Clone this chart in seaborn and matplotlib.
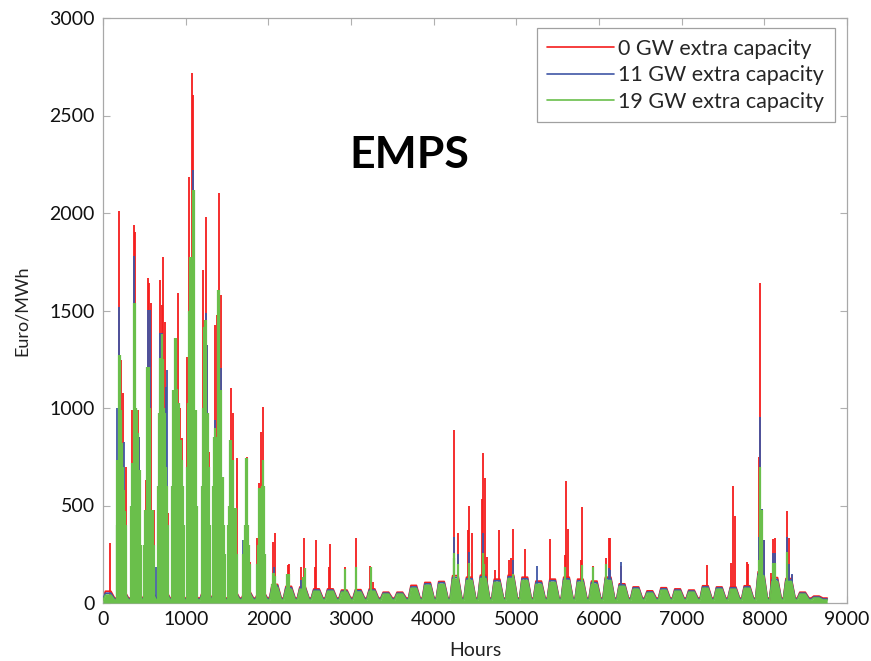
import numpy as np
import pandas as pd
import matplotlib
matplotlib.use("Agg")
import matplotlib.pyplot as plt
from matplotlib.lines import Line2D
import seaborn as sns

# ---------------- data ----------------
series_labels = ["0 GW extra capacity", "11 GW extra capacity", "19 GW extra capacity"]
colors = ["#f51d1d", "#3f56a6", "#6abf4b"]

# weekly baseline level (price plateau during each week), Euro/MWh
green_week = [40, 50, 50, 50, 50, 50, 50, 50, 50, 50, 50, 50, 80, 70, 70, 60, 60, 55, 55,
              60, 45, 45, 75, 90, 95, 120, 115, 125, 105, 125, 115, 95, 105, 115, 105, 95,
              115, 85, 70, 50, 65, 60, 55, 75, 70, 70, 75, 140, 110, 110, 45, 25, 20]
blue_week = [50, 55, 55, 55, 55, 55, 55, 55, 55, 55, 55, 55, 88, 78, 76, 66, 66, 60, 62,
             66, 50, 50, 82, 98, 104, 130, 124, 134, 114, 134, 124, 104, 114, 124, 114, 104,
             124, 92, 77, 56, 72, 66, 61, 82, 77, 77, 82, 150, 120, 118, 50, 30, 22]
red_week = [60, 60, 60, 60, 60, 60, 60, 60, 60, 60, 60, 60, 95, 85, 82, 72, 72, 66, 68,
            72, 55, 55, 90, 105, 110, 140, 132, 142, 122, 142, 132, 112, 122, 132, 122, 112,
            132, 98, 82, 62, 78, 72, 66, 88, 82, 82, 88, 160, 130, 125, 55, 35, 25]
week_low = [25, 20, 15]  # weekend trough: red, blue, green

# spikes (hour, price)
red_hours = [85, 198, 222, 246, 275, 351, 371, 391, 420, 440, 516, 540, 560, 576, 612,
             694, 714, 730, 750, 782, 870, 903, 932, 952, 1021, 1041, 1073, 1093, 1121,
             1214, 1242, 1262, 1282, 1355, 1379, 1408, 1428, 1456, 1549, 1577, 1617,
             1718, 1738, 1778, 1867, 1887, 1907, 1932, 2057, 2085, 2235, 2255, 2395, 2432,
             2560, 2574, 2735, 2747, 2928, 3057, 3235, 3270, 4240, 4290, 4412, 4432, 4460,
             4580, 4594, 4622, 4650, 4740, 4788, 4910, 4935, 4957, 5106, 5409, 5590, 5602,
             5630, 5780, 5800, 5930, 6090, 6115, 6135, 6270, 7310, 7600, 7620, 7647, 7788,
             7800, 7930, 7950, 7970, 8000, 8080, 8102, 8125, 8272, 8300, 8330]
red_vals = [308, 2010, 1246, 1077, 697, 990, 1940, 1903, 990, 851, 631, 1667, 1641, 1540, 477,
            1657, 1528, 1775, 1441, 462, 1339, 1590, 1000, 846, 1262, 2185, 2718, 2606, 785,
            1708, 1980, 1323, 774, 1426, 1477, 2103, 1580, 615, 1103, 974, 743,
            359, 750, 210, 333, 615, 877, 1005, 313, 359, 195, 200, 185, 333,
            185, 323, 185, 302, 185, 333, 190, 108, 887, 359, 374, 497, 359,
            533, 769, 641, 236, 169, 374, 220, 230, 379, 277, 328, 246, 626,
            379, 220, 492, 190, 231, 333, 333, 190, 195, 205, 600, 446, 210,
            200, 749, 1640, 482, 323, 154, 328, 333, 472, 333, 144]

blue_hours = [173, 198, 250, 380, 391, 440, 548, 568, 637, 694, 714, 758, 775, 870, 1041,
              1093, 1121, 1242, 1262, 1355, 1379, 1428, 1464, 1698, 2069, 2245, 2400, 4240,
              4290, 4432, 4594, 4957, 5248, 6115, 6135, 6270, 7930, 7950, 7970, 8000, 8102,
              8125, 8272, 8300, 8330]
blue_vals = [1000, 1518, 826, 1780, 1518, 851, 1503, 1503, 185, 1385, 1385, 1108, 1195, 1359, 1025,
             2220, 785, 1487, 1323, 938, 850, 1205, 308, 323, 185, 118, 118, 339,
             250, 262, 359, 220, 190, 180, 169, 210, 339, 954, 480, 323, 256,
             256, 339, 200, 150]

green_hours = [165, 173, 185, 194, 202, 210, 222, 234, 246, 258, 270, 282,
               339, 351, 363, 372, 384, 396, 408, 420, 432, 444, 456,
               500, 512, 524, 536, 548, 560, 572, 584, 596, 608, 620,
               670, 682, 694, 706, 718, 730, 742, 754, 766, 778, 790,
               838, 850, 862, 874, 886, 898, 910, 922, 934, 946, 958, 970, 982,
               1012, 1024, 1036, 1048, 1060, 1072, 1084, 1096, 1108, 1120, 1132,
               1194, 1206, 1218, 1230, 1242, 1254, 1266, 1278, 1290,
               1335, 1347, 1359, 1371, 1383, 1395, 1407, 1419, 1431, 1443, 1455, 1467, 1479,
               1512, 1525, 1537, 1549, 1561, 1573, 1585, 1597, 1609, 1621,
               1690, 1702, 1714, 1726, 1738, 1750, 1762, 1774,
               1859, 1871, 1883, 1895, 1907, 1919, 1931, 1943, 1955,
               2045, 2057, 2069, 2081, 2093, 2230, 2245, 2425, 2440, 2928, 3060, 3240,
               4240, 4252, 4290, 4432, 4594, 4610, 4957, 5590, 5800, 5930, 6090,
               7930, 7950, 7970, 8102, 8125, 8272]
green_vals = [400, 733, 733, 1272, 1272, 990, 990, 820, 700, 580, 470, 400,
              500, 718, 718, 1540, 1540, 1000, 990, 870, 682, 682, 300,
              300, 477, 477, 1210, 1210, 1210, 1000, 477, 477, 477, 300,
              600, 974, 1257, 1257, 1380, 1250, 1000, 974, 700, 600, 400,
              600, 1092, 1092, 1359, 1359, 1100, 1025, 1025, 836, 836, 733, 600, 400,
              700, 1025, 1500, 1775, 1775, 1400, 2118, 2118, 990, 990, 500,
              600, 1000, 1416, 1451, 1451, 974, 974, 700, 400,
              600, 850, 900, 850, 850, 1605, 1605, 1092, 1092, 646, 646, 400, 250,
              400, 500, 836, 836, 733, 733, 487, 487, 487, 250,
              250, 323, 400, 743, 743, 400, 300, 200,
              200, 300, 590, 590, 500, 600, 733, 600, 250,
              100, 154, 154, 140, 100, 150, 150, 133, 180, 175, 185, 185,
              256, 230, 200, 205, 256, 200, 150, 185, 195, 185, 200,
              220, 698, 477, 205, 205, 262]

x_ticks = [0, 1000, 2000, 3000, 4000, 5000, 6000, 7000, 8000, 9000]
y_ticks = [0, 500, 1000, 1500, 2000, 2500, 3000]
last_hour = 8760

# ---------------- figure ----------------
sns.set_theme(style="white")
plt.rcParams["font.family"] = ["Lato", "DejaVu Sans"]

fig = plt.figure(figsize=(8.71, 6.61), dpi=100)
ax = fig.add_axes([103 / 871, 1 - 603 / 661, 744 / 871, 585 / 661])


def weekly_profile(levels, low):
    xs, ys = [], []
    for k, lvl in enumerate(levels):
        start = 168 * k
        for dx, v in ((0, low), (30, lvl), (95, lvl), (140, low)):
            h = start + dx
            if h <= last_hour:
                xs.append(h)
                ys.append(v)
    xs.append(last_hour)
    ys.append(low)
    return np.array(xs), np.array(ys)


weeks = [red_week, blue_week, green_week]
spikes = [(red_hours, red_vals), (blue_hours, blue_vals), (green_hours, green_vals)]

for i in range(3):
    bx, by = weekly_profile(weeks[i], week_low[i])
    df = pd.DataFrame({"Hours": bx, "Price": by})
    if i == 2:
        ax.fill_between(bx, 0, by, color=colors[i], lw=0, zorder=2 + i)
    sns.lineplot(data=df, x="Hours", y="Price", color=colors[i], lw=1.3, ax=ax,
                 zorder=2 + i, sort=True, estimator=None)
    hx, hv = spikes[i]
    ax.vlines(hx, 0, hv, color=colors[i], lw=1.3 if i < 2 else 1.6, zorder=2 + i)

ax.set_xlim(0, 9000)
ax.set_ylim(0, 3000)
ax.set_xticks(x_ticks)
ax.set_yticks(y_ticks)
ax.set_xticklabels([str(t) for t in x_ticks])
ax.set_yticklabels([str(t) for t in y_ticks])
ax.tick_params(axis="both", which="both", direction="in", length=5, width=0.8,
               color="#b0b0b0", labelsize=14, labelcolor="#111111",
               top=True, right=True, bottom=True, left=True, pad=6)
for s in ax.spines.values():
    s.set_visible(True)
    s.set_color("#a8a8a8")
    s.set_linewidth(0.9)

ax.set_xlabel("Hours", fontsize=14, color="#222222", labelpad=10)
ax.set_ylabel("Euro/MWh", fontsize=13, color="#222222", labelpad=14)

ax.text(3700, 2300, "EMPS", fontsize=32, fontweight="bold", ha="center", va="center",
        color="black")

handles = [Line2D([0], [0], color=c, lw=1.2) for c in colors]
leg = ax.legend(handles, series_labels, loc="upper right", fontsize=15.5, frameon=True,
                fancybox=False, edgecolor="#a0a0a0", framealpha=1, handlelength=3.1,
                handletextpad=0.2, borderpad=0.5, labelspacing=0.3, borderaxespad=0,
                bbox_to_anchor=(0.984, 0.983))
leg.get_frame().set_linewidth(0.9)

fig.savefig("out.png", dpi=100)
